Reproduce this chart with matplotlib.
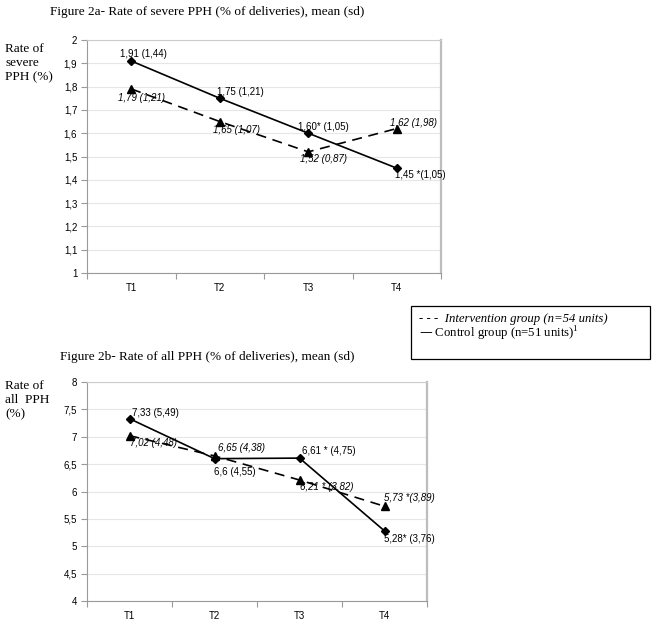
import matplotlib
matplotlib.use("Agg")
import matplotlib.pyplot as plt
from matplotlib.patches import Rectangle

# ---------------- data ----------------
categories = ["T1", "T2", "T3", "T4"]

severe_control = [1.91, 1.75, 1.60, 1.45]
severe_control_labels = ["1,91 (1,44)", "1,75 (1,21)", "1,60* (1,05)", "1,45 *(1,05)"]
severe_interv = [1.79, 1.65, 1.52, 1.62]
severe_interv_labels = ["1,79 (1,21)", "1,65 (1,07)", "1,52 (0,87)", "1,62 (1,98)"]

all_control = [7.33, 6.6, 6.61, 5.28]
all_control_labels = ["7,33 (5,49)", "6,6 (4,55)", "6,61 * (4,75)", "5,28* (3,76)"]
all_interv = [7.02, 6.65, 6.21, 5.73]
all_interv_labels = ["7,02 (4,48)", "6,65 (4,38)", "6,21 * (3,82)", "5,73 *(3,89)"]

severe_yticks = [1.0, 1.1, 1.2, 1.3, 1.4, 1.5, 1.6, 1.7, 1.8, 1.9, 2.0]
all_yticks = [4.0, 4.5, 5.0, 5.5, 6.0, 6.5, 7.0, 7.5, 8.0]

# ---------------- layout (pixel offsets of labels) ----------------
sev_c_off = [(-11, 7), (-3, 6), (-10, 6), (-2, -7)]
sev_i_off = [(-13, -9), (-7, -8), (-8, -7), (-7, 6)]
all_c_off = [(3, 6), (0, -13), (3, 7), (-1, -8)]
all_i_off = [(1, -7), (4, 8), (1, -7), (-1, 8)]

W, H = 656, 625
fig = plt.figure(figsize=(W / 100, H / 100), dpi=100)
fig.patch.set_facecolor("white")

SANS = "Liberation Sans"
SERIF = "Liberation Serif"
SPINE = "#9a9a9a"
GRID = "#e6e6e6"


def fmt(v):
    return ("%g" % v).replace(".", ",")


def make_axes(left, right, top, bottom):
    return fig.add_axes([left / W, 1 - bottom / H, (right - left) / W, (bottom - top) / H])


def style_axes(ax, yticks):
    x = list(range(len(categories)))
    ax.set_xlim(-0.5, len(categories) - 0.5)
    ax.set_ylim(yticks[0], yticks[-1])
    ax.set_yticks(yticks)
    ax.set_yticklabels([fmt(v) for v in yticks], fontfamily=SANS, fontsize=7)
    ax.set_xticks(x)
    ax.set_xticklabels(categories, fontfamily=SANS, fontsize=7)
    ax.set_xticks([i - 0.5 for i in range(len(categories) + 1)], minor=True)
    ax.tick_params(axis="x", which="major", length=0, pad=7)
    ax.tick_params(axis="x", which="minor", length=4, color=SPINE, width=0.8, direction="out")
    ax.tick_params(axis="y", length=4, color=SPINE, width=0.8, pad=3)
    ax.grid(axis="y", color=GRID, linewidth=0.8)
    ax.set_axisbelow(True)
    for s in ["left", "bottom"]:
        ax.spines[s].set_color(SPINE)
        ax.spines[s].set_linewidth(0.8)
    ax.spines["top"].set_color("#cccccc")
    ax.spines["top"].set_linewidth(0.8)
    ax.spines["right"].set_color("#bdbdbd")
    ax.spines["right"].set_linewidth(1.6)


def draw_series(ax, ctrl, ctrl_lab, ctrl_off, intv, intv_lab, intv_off):
    x = list(range(len(categories)))
    ax.plot(x, intv, color="black", linewidth=1.2, linestyle=(0, (6, 4)),
            marker="^", markersize=6, zorder=3)
    ax.plot(x, ctrl, color="black", linewidth=1.2, linestyle="-",
            marker="D", markersize=4.5, zorder=4)
    for xi, v, lab, (dx, dy) in zip(x, ctrl, ctrl_lab, ctrl_off):
        ax.annotate(lab, (xi, v), xytext=(dx, dy), textcoords="offset pixels",
                    ha="left", va="center", fontfamily=SANS, fontsize=7, zorder=5)
    for xi, v, lab, (dx, dy) in zip(x, intv, intv_lab, intv_off):
        ax.annotate(lab, (xi, v), xytext=(dx, dy), textcoords="offset pixels",
                    ha="left", va="center", fontfamily=SANS, fontsize=7,
                    style="italic", zorder=5)


# ---------- Figure 2a ----------
ax1 = make_axes(87, 441, 40, 273)
style_axes(ax1, severe_yticks)
draw_series(ax1, severe_control, severe_control_labels, sev_c_off,
            severe_interv, severe_interv_labels, sev_i_off)
fig.text(207 / W, 1 - 12 / H, "Figure 2a- Rate of severe PPH (% of deliveries), mean (sd)",
         ha="center", va="center", fontfamily=SERIF, fontsize=9.5)
fig.text(5 / W, 1 - 63 / H, "Rate of\nsevere\nPPH (%)", ha="left", va="center",
         fontfamily=SERIF, fontsize=9.5, linespacing=1.25)

# ---------- Figure 2b ----------
ax2 = make_axes(87, 427, 382, 601)
style_axes(ax2, all_yticks)
draw_series(ax2, all_control, all_control_labels, all_c_off,
            all_interv, all_interv_labels, all_i_off)
fig.text(207 / W, 1 - 357 / H, "Figure 2b- Rate of all PPH (% of deliveries), mean (sd)",
         ha="center", va="center", fontfamily=SERIF, fontsize=9.5)
fig.text(5 / W, 1 - 400 / H, "Rate of\nall  PPH\n(%)", ha="left", va="center",
         fontfamily=SERIF, fontsize=9.5, linespacing=1.25)

# ---------- legend box ----------
fig.patches.append(Rectangle((411 / W, 1 - 359 / H), (650 - 411) / W, (359 - 306) / H,
                             transform=fig.transFigure, facecolor="white",
                             edgecolor="black", linewidth=0.9))
fig.text(419 / W, 1 - 319 / H, "- - -  Intervention group (n=54 units)", ha="left",
         va="center", fontfamily=SERIF, fontsize=9.2, style="italic")
fig.text(419 / W, 1 - 334 / H, "\u2014 Control group (n=51 units)$^{\\mathregular{1}}$",
         ha="left", va="center", fontfamily=SERIF, fontsize=9.2)

fig.savefig("out.png", dpi=100, facecolor="white")
